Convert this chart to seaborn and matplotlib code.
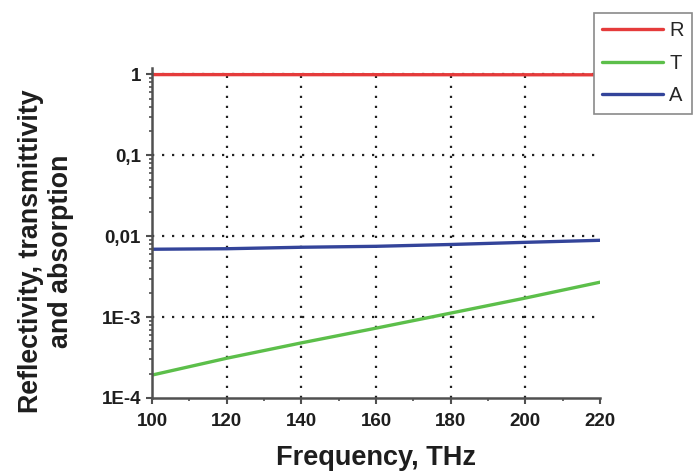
import numpy as np
import pandas as pd
import matplotlib
matplotlib.use("Agg")
import matplotlib.pyplot as plt
import seaborn as sns
from matplotlib.ticker import FixedLocator, FixedFormatter, MultipleLocator, LogLocator, NullFormatter

# Frequency grid (THz) and spectra
freq = [100, 120, 140, 160, 180, 200, 220]
reflectivity = [0.995, 0.994, 0.993, 0.992, 0.991, 0.990, 0.989]
transmittivity = [1.92e-4, 3.1e-4, 4.8e-4, 7.3e-4, 1.12e-3, 1.72e-3, 2.7e-3]
absorption = [0.0069, 0.0070, 0.0073, 0.0075, 0.0079, 0.0084, 0.0089]

series_names = ["R", "T", "A"]
series_colors = ["#e53b3b", "#5cbf4a", "#33449a"]

y_tick_values = [1e-4, 1e-3, 1e-2, 1e-1, 1]
y_tick_labels = ["1E-4", "1E-3", "0,01", "0,1", "1"]
x_tick_values = [100, 120, 140, 160, 180, 200, 220]

df = pd.DataFrame({
    "freq": freq * 3,
    "value": reflectivity + transmittivity + absorption,
    "series": [n for n in series_names for _ in freq],
})

sns.set_theme(style="white")
plt.rcParams["font.family"] = ["Liberation Sans", "DejaVu Sans"]

W, H = 697, 472
fig = plt.figure(figsize=(W / 100, H / 100), dpi=100)
ax = fig.add_axes([152 / W, 1 - 398 / H, 448 / W, 330 / H])

sns.lineplot(data=df, x="freq", y="value", hue="series", hue_order=series_names,
             palette=series_colors, linewidth=2.4, ax=ax, legend=False)
ax.set_xlabel("")
ax.set_ylabel("")

ax.set_yscale("log")
ax.set_ylim(1e-4, 1.2)
ax.set_xlim(100, 220)

ax.yaxis.set_major_locator(FixedLocator(y_tick_values))
ax.yaxis.set_major_formatter(FixedFormatter(y_tick_labels))
ax.yaxis.set_minor_locator(LogLocator(base=10, subs=np.arange(2, 10), numticks=20))
ax.yaxis.set_minor_formatter(NullFormatter())
ax.xaxis.set_major_locator(FixedLocator(x_tick_values))
ax.xaxis.set_minor_locator(MultipleLocator(10))

spine_color = "#505050"
for side in ["top", "right"]:
    ax.spines[side].set_visible(False)
for side in ["left", "bottom"]:
    ax.spines[side].set_color(spine_color)
    ax.spines[side].set_linewidth(1.8)

ax.tick_params(axis="both", which="major", direction="out", length=4, width=1.5,
               color=spine_color, labelsize=13.5, left=True, bottom=True)
ax.tick_params(axis="x", which="major", pad=7)
ax.tick_params(axis="y", which="major", pad=4)
ax.tick_params(axis="both", which="minor", direction="out", length=2.5, width=1.2,
               color=spine_color, left=True, bottom=True)
for lbl in ax.get_xticklabels() + ax.get_yticklabels():
    lbl.set_fontweight("bold")
    lbl.set_color("#1e1e1e")

# dotted grid at interior major ticks
for xv in x_tick_values[1:-1]:
    ax.axvline(xv, color="#222222", linestyle=(0, (1, 3.5)), linewidth=1.6, zorder=0.5)
for yv in y_tick_values[1:]:
    ax.axhline(yv, color="#222222", linestyle=(0, (1, 3.5)), linewidth=1.6, zorder=0.5)

fig.text(376 / W, 1 - 458 / H, "Frequency, THz", fontsize=19.5, fontweight="bold",
         color="#1e1e1e", ha="center", va="center")
fig.text(46 / W, 1 - 251 / H, "Reflectivity, transmittivity\nand absorption",
         fontsize=19.3, fontweight="bold", color="#1e1e1e", rotation=90,
         ha="center", va="center", multialignment="center", linespacing=1.2)

handles = [plt.Line2D([], [], color=c, linewidth=2.4) for c in series_colors]
leg = fig.legend(handles, series_names, loc="upper right",
                 bbox_to_anchor=(692 / W, 1 - 13 / H),
                 prop={"size": 14.5}, frameon=True, fancybox=False, handlelength=3.05,
                 handletextpad=0.3, borderpad=0.4, labelspacing=0.68,
                 borderaxespad=0)
leg.get_frame().set_edgecolor("#8a8a8a")
leg.get_frame().set_linewidth(1.2)
leg.get_frame().set_alpha(1)

fig.savefig("out.png", dpi=100)
